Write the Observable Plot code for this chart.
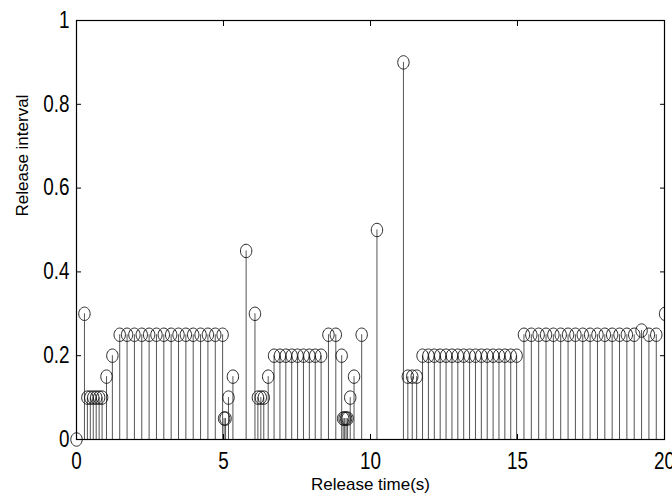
<!DOCTYPE html>
<html>
<head>
<meta charset="utf-8">
<script src="https://cdn.jsdelivr.net/npm/d3@7"></script>
<script src="https://cdn.jsdelivr.net/npm/@observablehq/plot@0.6"></script>
<style>
  html, body { margin: 0; padding: 0; background: #fff; }
  #chart { width: 672px; height: 502px; overflow: hidden; }
</style>
</head>
<body>
<div id="chart"></div>
<script>
// Release times (s)
const releaseTimes = [
  0, 0.27,
  0.37, 0.47, 0.57, 0.67, 0.77, 0.87,
  1.02, 1.22,
  1.47, 1.72, 1.97, 2.22, 2.47, 2.72, 2.97, 3.22, 3.47, 3.72, 3.97, 4.22, 4.47, 4.72, 4.97,
  5.02, 5.07, 5.17, 5.32, 5.77, 6.07,
  6.17, 6.27, 6.37, 6.52,
  6.72, 6.92, 7.12, 7.32, 7.52, 7.72, 7.92, 8.12, 8.32,
  8.57, 8.82, 9.02,
  9.07, 9.12, 9.17, 9.22, 9.31, 9.44, 9.70, 10.22, 11.12,
  11.27, 11.42, 11.57,
  11.77, 11.97, 12.17, 12.37, 12.57, 12.77, 12.97, 13.17, 13.37, 13.57, 13.77, 13.97, 14.17, 14.37, 14.57, 14.77, 14.97,
  15.22, 15.47, 15.72, 15.97, 16.22, 16.47, 16.72, 16.97, 17.22, 17.47, 17.72, 17.97, 18.22, 18.47, 18.72, 18.97, 19.22, 19.47, 19.72,
  20.02
];
// Release intervals
const releaseIntervals = [
  0, 0.3,
  0.1, 0.1, 0.1, 0.1, 0.1, 0.1,
  0.15, 0.2,
  0.25, 0.25, 0.25, 0.25, 0.25, 0.25, 0.25, 0.25, 0.25, 0.25, 0.25, 0.25, 0.25, 0.25, 0.25,
  0.05, 0.05, 0.1, 0.15, 0.45, 0.3,
  0.1, 0.1, 0.1, 0.15,
  0.2, 0.2, 0.2, 0.2, 0.2, 0.2, 0.2, 0.2, 0.2,
  0.25, 0.25, 0.2,
  0.05, 0.05, 0.05, 0.05, 0.1, 0.15, 0.25, 0.5, 0.9,
  0.15, 0.15, 0.15,
  0.2, 0.2, 0.2, 0.2, 0.2, 0.2, 0.2, 0.2, 0.2, 0.2, 0.2, 0.2, 0.2, 0.2, 0.2, 0.2, 0.2,
  0.25, 0.25, 0.25, 0.25, 0.25, 0.25, 0.25, 0.25, 0.25, 0.25, 0.25, 0.25, 0.25, 0.25, 0.25, 0.25, 0.26, 0.25, 0.25,
  0.3
];
const xTicks = [0, 5, 10, 15, 20];
const yTicks = [0, 0.2, 0.4, 0.6, 0.8, 1];
const yTickLabels = ["0", "0.2", "0.4", "0.6", "0.8", "1"];
const xLabel = "Release time(s)";
const yLabel = "Release interval";

const points = releaseTimes.map((t, i) => ({t, v: releaseIntervals[i]}));
const inside = points.filter(d => d.t <= 20);
const outside = points.filter(d => d.t > 20);

// open elliptical marker (MATLAB "o" marker, slightly tall)
const ellipse = {
  draw(ctx) {
    const rx = 5.7, ry = 6.7, k = 0.5523;
    ctx.moveTo(rx, 0);
    ctx.bezierCurveTo(rx, ry * k, rx * k, ry, 0, ry);
    ctx.bezierCurveTo(-rx * k, ry, -rx, ry * k, -rx, 0);
    ctx.bezierCurveTo(-rx, -ry * k, -rx * k, -ry, 0, -ry);
    ctx.bezierCurveTo(rx * k, -ry, rx, -ry * k, rx, 0);
    ctx.closePath();
  }
};

const chart = Plot.plot({
  width: 672,
  height: 502,
  marginLeft: 76,
  marginRight: 8,
  marginTop: 20,
  marginBottom: 63,
  style: {fontFamily: "'Liberation Sans', Arial, sans-serif", background: "#fff", overflow: "visible"},
  x: {domain: [0, 20]},
  y: {domain: [0, 1]},
  marks: [
    Plot.ruleX(points.filter(d => d.v > 0), {x: "t", y1: 0, y2: "v", stroke: "#555", strokeWidth: 1, insetTop: 6.7, clip: true}),
    Plot.dot(inside, {x: "t", y: "v", symbol: ellipse, stroke: "#111", strokeWidth: 0.9, fill: "none"}),
    Plot.dot(outside, {x: "t", y: "v", symbol: ellipse, stroke: "#111", strokeWidth: 0.9, fill: "none", clip: true}),
    Plot.frame({stroke: "#000", strokeWidth: 1.2}),
    Plot.axisX({anchor: "bottom", ticks: xTicks, tickSize: -5, text: null, label: null}),
    Plot.axisX({anchor: "top", ticks: xTicks, tickSize: -5, text: null, label: null}),
    Plot.axisY({anchor: "left", ticks: yTicks, tickSize: -5, text: null, label: null}),
    Plot.axisY({anchor: "right", ticks: yTicks, tickSize: -5, text: null, label: null}),
    Plot.axisX({anchor: "bottom", ticks: xTicks, tickSize: 0, tickPadding: 13, fontSize: 23, label: null}),
    Plot.axisY({anchor: "left", ticks: yTicks, tickSize: 0, tickPadding: 7, fontSize: 23,
      tickFormat: d => yTickLabels[yTicks.indexOf(d)], label: null}),
    Plot.text([xLabel], {text: d => d, frameAnchor: "bottom", dy: 50, fontSize: 17}),
    Plot.text([yLabel], {text: d => d, frameAnchor: "left", dx: -54, dy: -13.5, rotate: -90, fontSize: 17})
  ]
});

// condense the tick labels horizontally (narrow Helvetica look of the original)
d3.select(chart).selectAll('g[aria-label="x-axis tick label"] text, g[aria-label="y-axis tick label"] text')
  .each(function () {
    const el = d3.select(this);
    let tr = el.attr("transform");
    if (!tr) {
      const x = +(el.attr("x") || 0), y = +(el.attr("y") || 0);
      el.attr("x", null).attr("y", null);
      tr = `translate(${x},${y})`;
    }
    el.attr("transform", tr + " scale(0.82,1)");
  });

document.getElementById("chart").appendChild(chart);
</script>
</body>
</html>
